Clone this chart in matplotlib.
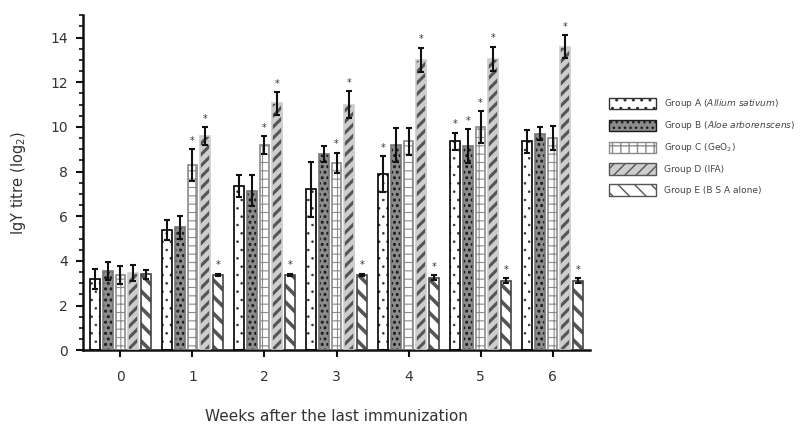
import matplotlib
matplotlib.use('Agg')
import matplotlib.pyplot as plt
from matplotlib.patches import Patch
from matplotlib.ticker import MultipleLocator
import numpy as np

plt.rcParams['font.family'] = ['DejaVu Sans']

# Data
weeks = [0, 1, 2, 3, 4, 5, 6]
groups = ['Group A ($\\it{Allium\\ sativum}$)',
          'Group B ($\\it{Aloe\\ arborenscens}$)',
          'Group C (GeO$_2$)',
          'Group D (IFA)',
          'Group E (B S A alone)']
group_a = [3.2, 5.4, 7.35, 7.2, 7.9, 9.35, 9.35]
group_b = [3.55, 5.5, 7.15, 8.8, 9.2, 9.15, 9.7]
group_c = [3.35, 8.3, 9.2, 8.4, 9.35, 10.0, 9.5]
group_d = [3.45, 9.6, 11.05, 11.0, 13.0, 13.05, 13.6]
group_e = [3.4, 3.38, 3.38, 3.38, 3.25, 3.12, 3.12]
err_a = [0.45, 0.45, 0.5, 1.25, 0.8, 0.4, 0.5]
err_b = [0.4, 0.5, 0.7, 0.35, 0.75, 0.75, 0.3]
err_c = [0.4, 0.7, 0.4, 0.45, 0.6, 0.7, 0.55]
err_d = [0.35, 0.4, 0.5, 0.6, 0.55, 0.55, 0.5]
err_e = [0.2, 0.05, 0.05, 0.05, 0.12, 0.1, 0.1]
# significance markers (1 = asterisk shown)
star_a = [0, 0, 0, 0, 1, 1, 0]
star_b = [0, 0, 0, 0, 0, 1, 0]
star_c = [0, 1, 1, 1, 0, 1, 0]
star_d = [0, 1, 1, 1, 1, 1, 1]
star_e = [0, 1, 1, 1, 1, 1, 1]

values = [group_a, group_b, group_c, group_d, group_e]
errors = [err_a, err_b, err_c, err_d, err_e]
stars = [star_a, star_b, star_c, star_d, star_e]

# style per group: face, hatch, hatch colour, edge, hatch linewidth
styles = [
    ('white', '..', '#333333', 'black', 0.6),
    ('#8c8c8c', '...', '#1a1a1a', '#777777', 1.4),
    ('white', '++', '#8a8a8a', '#8a8a8a', 0.8),
    ('#cdcdcd', '///', '#555555', '#cdcdcd', 2.2),
    ('white', '\\\\', '#555555', '#444444', 2.6),
]

fig = plt.figure(figsize=(8.06, 4.25), dpi=100)
ax = fig.add_axes([0.103, 0.176, 0.629, 0.788])

x = np.array(weeks, dtype=float)
pitch = 0.175
width = 0.135

for i, (vals, errs, st) in enumerate(zip(values, errors, stars)):
    face, hatch, hcol, edge, hlw = styles[i]
    pos = x + (i - 2) * pitch
    with plt.rc_context({'hatch.linewidth': hlw}):
        bars = ax.bar(pos, vals, width, color=face, hatch=hatch,
                      edgecolor=hcol, linewidth=0, zorder=2)
    for b in bars:
        if hasattr(b, 'set_hatch_linewidth'):
            b.set_hatch_linewidth(hlw)
    ax.bar(pos, vals, width, fill=False, edgecolor=edge, linewidth=1.2, zorder=3)
    ax.errorbar(pos, vals, yerr=errs, fmt='none', ecolor='#111111',
                elinewidth=1.5, capsize=2.5, capthick=1.5, zorder=4)
    for p, v, e, s in zip(pos, vals, errs, st):
        if s:
            ax.text(p, v + e + 0.15, '*', ha='center', va='bottom',
                    fontsize=7, color='#333333')

ax.set_xlim(-0.52, 6.52)
ax.set_xticks(weeks)
ax.yaxis.set_major_locator(MultipleLocator(2))
ax.yaxis.set_minor_locator(MultipleLocator(0.5))
ax.set_ylim(0, 15)

for side in ['top', 'right']:
    ax.spines[side].set_visible(False)
for side in ['left', 'bottom']:
    ax.spines[side].set_linewidth(1.8)
    ax.spines[side].set_color('#111111')

ax.tick_params(axis='both', which='major', direction='out', length=5, width=1.5,
               labelsize=10, labelcolor='#333333', color='#111111', pad=6)
ax.tick_params(axis='y', which='minor', direction='out', length=3, width=1.2,
               color='#111111')
ax.tick_params(axis='x', which='major', pad=9)

ax.set_ylabel('IgY titre (log$_2$)', fontsize=10.5, color='#333333', labelpad=16)
ax.set_xlabel('Weeks after the last immunization', fontsize=11, color='#333333',
              labelpad=18)

handles = []
for face, hatch, hcol, edge, hlw in styles:
    handles.append(Patch(facecolor=face, hatch=hatch, edgecolor=hcol, linewidth=1.0))
leg = fig.legend(handles, groups, loc='upper left', bbox_to_anchor=(0.745, 0.79),
                 frameon=False, fontsize=6.5, handlelength=5.3, handleheight=1.6,
                 labelspacing=1.0, handletextpad=0.8)
for t in leg.get_texts():
    t.set_color('#444444')

plt.savefig('out.png', dpi=100)
